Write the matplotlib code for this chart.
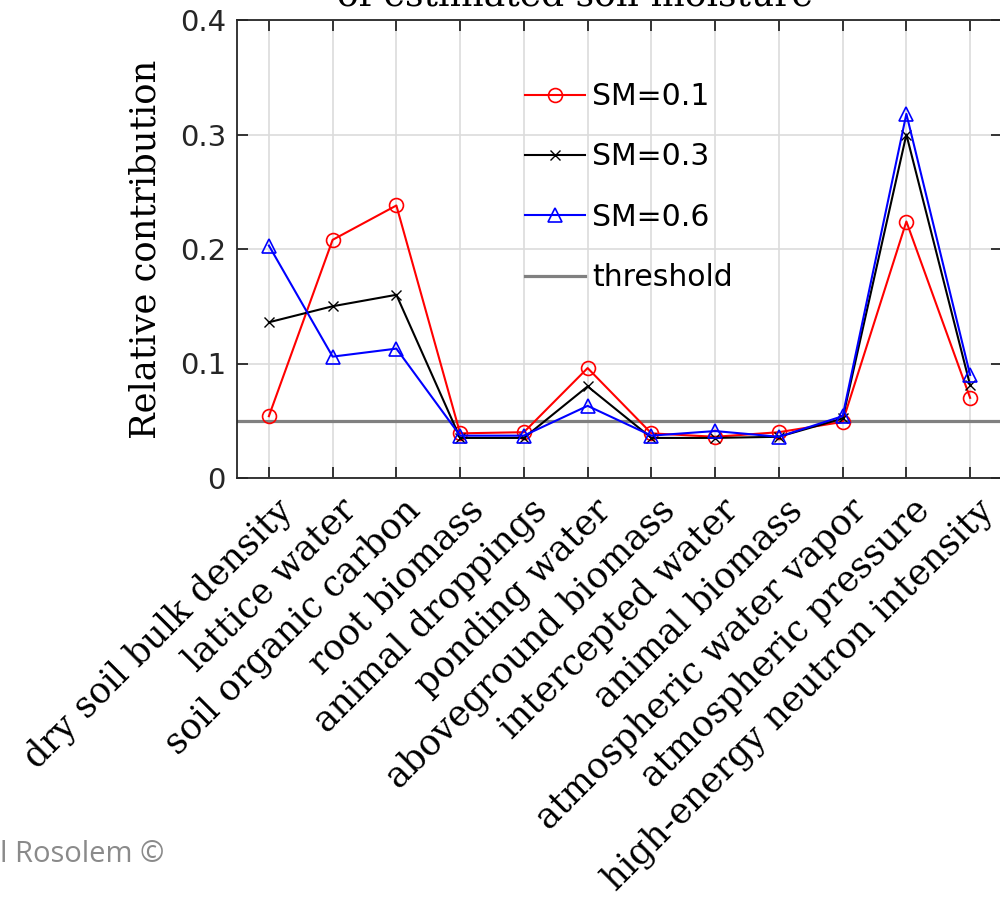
import numpy as np
import matplotlib
matplotlib.use("Agg")
from matplotlib import pyplot as plt
from matplotlib import transforms

# values (relative contribution per variable)
variables = ["dry soil bulk density", "lattice water", "soil organic carbon",
             "root biomass", "animal droppings", "ponding water",
             "aboveground biomass", "intercepted water", "animal biomass",
             "atmospheric water vapor", "atmospheric pressure",
             "high-energy neutron intensity"]
sm01 = [0.054, 0.208, 0.238, 0.039, 0.040, 0.096, 0.039, 0.036, 0.040, 0.049, 0.224, 0.070]
sm03 = [0.136, 0.150, 0.160, 0.035, 0.035, 0.080, 0.035, 0.035, 0.036, 0.052, 0.300, 0.081]
sm06 = [0.203, 0.106, 0.113, 0.037, 0.037, 0.063, 0.037, 0.041, 0.036, 0.054, 0.318, 0.090]
threshold = 0.05
yticks = [0, 0.1, 0.2, 0.3, 0.4]

serif = "DejaVu Serif"
dark = "#262626"

fig = plt.figure(figsize=(10, 8.99), dpi=100)
ax = fig.add_axes([0.237, 421 / 899, 0.765, 458 / 899])

x = np.arange(1, len(variables) + 1)
ax.plot(x, sm01, color="red", marker="o", ms=10, mfc="none", mew=1.2, lw=1.5, label="SM=0.1")
ax.plot(x, sm03, color="black", marker="x", ms=7, mew=1.0, lw=1.5, label="SM=0.3")
ax.plot(x, sm06, color="blue", marker="^", ms=10, mfc="none", mew=1.2, lw=1.5, label="SM=0.6")
ax.axhline(threshold, color="#808080", lw=2.3, label="threshold", zorder=1.5)

ax.grid(True, color="#dcdcdc", lw=1.2)
ax.set_axisbelow(True)
ax.tick_params(direction="in", length=8, width=1.3, top=True, right=True, colors=dark)
ax.tick_params(axis="y", pad=8, labelsize=21, labelcolor=dark)
for sp in ax.spines.values():
    sp.set_color(dark)
    sp.set_linewidth(1.3)

ax.set_xlim(0.5, len(variables) + 0.5)
ax.set_ylim(0, 0.4)
ax.set_yticks(yticks)
ax.set_yticklabels(["0", "0.1", "0.2", "0.3", "0.4"])
ax.set_xticks(x)
ax.set_xticklabels(variables, rotation=45, ha="right", rotation_mode="anchor",
                   family=serif, fontsize=25.5, color="black")
# nudge the rotated labels so their ends sit just below-right of each tick
off = transforms.ScaledTranslation(6 / 100, -10 / 100, fig.dpi_scale_trans)
for lab in ax.get_xticklabels():
    lab.set_transform(lab.get_transform() + off)

ax.set_ylabel("Relative contribution", family=serif, fontsize=25.5, labelpad=12)
fig.text(0.575, 1 - 5 / 899, "of estimated soil moisture", family=serif, fontsize=26,
         ha="center", va="baseline")

ax.legend(loc="upper left", bbox_to_anchor=(525 / 1000, 1 - 82 / 899),
          bbox_transform=fig.transFigure, frameon=False, fontsize=21.5,
          handlelength=2.0, handletextpad=0.25, labelspacing=1.05, borderpad=0,
          borderaxespad=0)

fig.text(0.0, 1 - 862 / 899, "l Rosolem \u00a9", family="Open Sans", fontsize=21,
         color="#8a8a8a", ha="left", va="baseline")

fig.savefig("out.png", dpi=100)
